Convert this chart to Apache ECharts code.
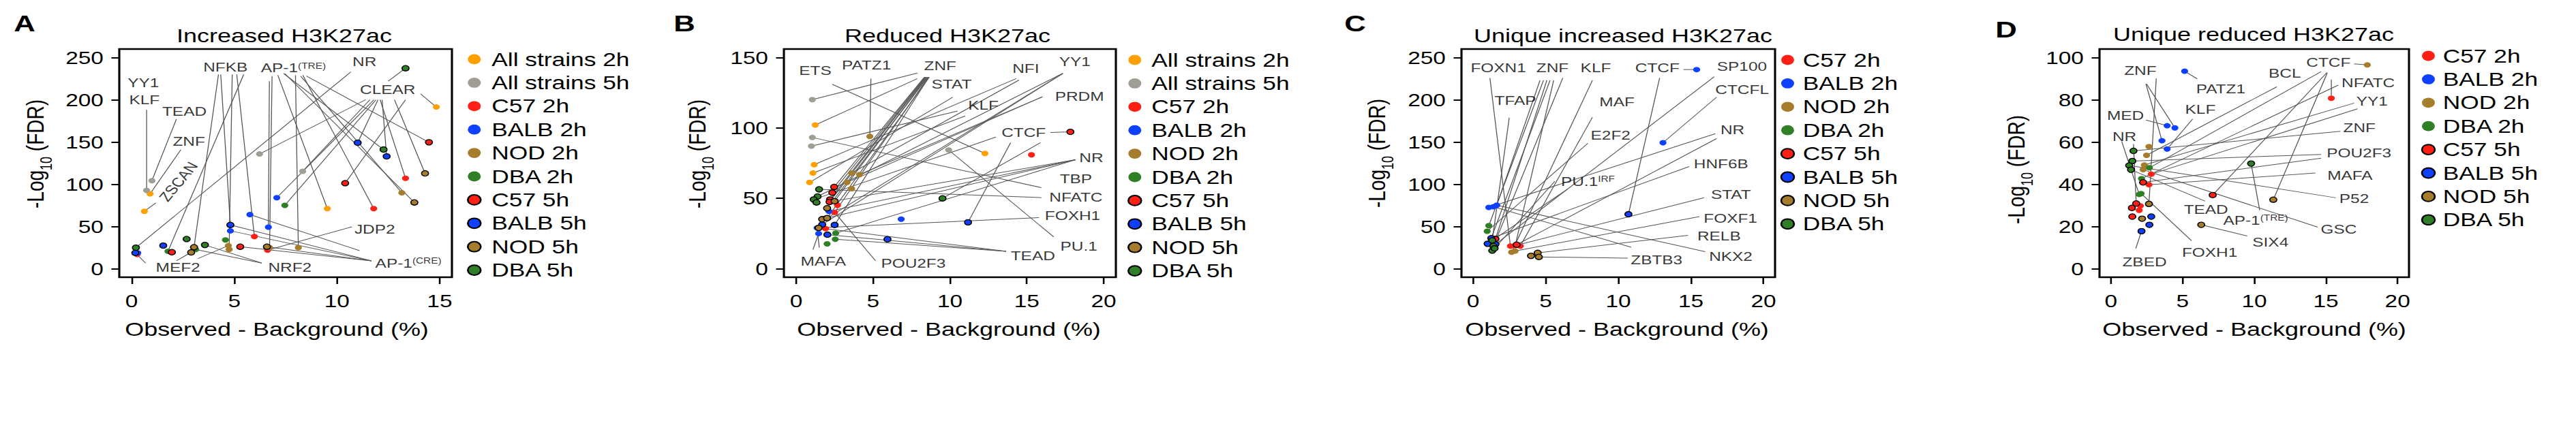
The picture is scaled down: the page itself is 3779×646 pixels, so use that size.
<!DOCTYPE html>
<html><head><meta charset="utf-8">
<script src="https://cdn.jsdelivr.net/npm/echarts@6/dist/echarts.min.js"></script>
<style>html,body{margin:0;padding:0;background:#fff;overflow:hidden;width:3779px;height:646px}
#c{height:646px;transform-origin:0 0}</style>
</head><body><div id="c"></div>
<script>
// ---------- series definitions ----------
const SERIES_KEYS = ['all2','all5','c2','b2','n2','d2','c5','b5','n5','d5'];
const SERIES_NAMES = ['All strains 2h','All strains 5h','C57 2h','BALB 2h','NOD 2h','DBA 2h','C57 5h','BALB 5h','NOD 5h','DBA 5h'];
const SERIES_COLORS = ['#FFA000','#A09D95','#FF2015','#1040FF','#A67D2C','#2F7F27','#FF2015','#1040FF','#A67D2C','#2F7F27'];
const SERIES_OUTLINED = [false,false,false,false,false,false,true,true,true,true];

// ---------- Panel A: Increased H3K27ac ----------
const A_title = 'Increased H3K27ac';
const A_xTicks = [0,5,10,15];
const A_yTicks = [0,50,100,150,200,250];
const A_all2 = [[0.62,68],[0.9,88.7],[9.53,71.2],[14.84,191.4]];
const A_all5 = [[0.73,92.7],[0.99,104.3],[6.23,135.8],[8.33,115.3]];
const A_c2 = [[0.27,17],[5.98,38.2],[6.62,22],[11.79,71.2],[13.34,107]];
const A_b2 = [[0.3,18.8],[7.07,84.1],[5.76,64.2],[6.66,49.2],[4.81,44.9]];
const A_n2 = [[4.71,27.4],[4.75,22.8],[6.72,25],[8.12,25],[13.16,90]];
const A_d2 = [[7.46,75],[4.57,34.1],[1.77,20.7],[3.12,22.8]];
const A_c5 = [[5.29,26.1],[1.96,19.6],[10.4,101.3],[14.48,149.7]];
const A_b5 = [[0.18,18.8],[1.54,27.4],[4.81,51.9],[11.01,149.2],[12.42,133]];
const A_n5 = [[6.59,26.1],[2.9,19.4],[3.04,25.5],[14.29,112.9],[13.77,78.5]];
const A_d5 = [[0.21,25],[2.68,35.2],[3.57,28.2],[12.27,141.1],[13.34,237.3]];
// annotation labels: [text, x, y, rotate]
const A_labels = [['YY1',0.57,220.4],['KLF',0.62,199.6],['TEAD',2.57,186.3],['ZNF',2.79,151.2],['ZSCAN',2.28,103,57],
  ['NFKB',4.57,238.9],['AP-1{sup|(TRE)}',7.88,237.5],['NR',11.34,245.4],['CLEAR',12.47,212.3],['JDP2',11.84,47],
  ['AP-1{sup|(CRE)}',13.48,6.7],['NRF2',7.71,1.3],['MEF2',2.26,1.3]];
// leader lines: [label-end x, label-end y, series key, point index]
const A_leaders = [
 [0.73,188,'all5',0],[2.18,177,'all5',1],[2.4,141,'all2',1],[1.18,78,'all2',0],
 [4.23,230,'n5',2],[4.34,230,'b5',2],[4.9,230,'n2',1],[5.12,230,'c2',1],[5.46,230,'d2',2],
 [6.71,222,'b2',3],[6.84,228,'n2',2],[7.12,229,'all2',2],[7.4,231,'d5',3],[7.46,231,'n5',4],[7.98,229,'n2',3],[8.23,228,'n2',4],[8.34,229,'c2',3],[8.51,228,'c5',3],
 [10.68,233,'d5',0],
 [11.4,200,'all5',2],[11.6,200,'all5',3],[11.8,200,'b2',1],[11.9,200,'d2',0],[12.0,200,'b5',3],[12.1,200,'c2',4],[12.2,200,'b5',4],[12.8,200,'n5',3],[13.34,200,'c5',2],[12.5,222,'d5',4],[14.07,207,'all2',3],
 [10.73,49.7,'c2',2],[11.1,21.5,'b2',2],
 [11.68,9.4,'b5',2],[11.68,9.4,'c5',0],[11.68,9.4,'n5',0],[11.68,9.4,'b2',4],
 [6.34,6.7,'d5',2],[6.34,6.7,'d2',3],
 [2.18,9.4,'n5',1],[0.68,6.7,'b5',0],[3.23,12.1,'n2',0]
];

// ---------- Panel B: Reduced H3K27ac ----------
const B_title = 'Reduced H3K27ac';
const B_xTicks = [0,5,10,15,20];
const B_yTicks = [0,50,100,150];
const B_all2 = [[1.24,102.1],[1.17,73.9],[1.09,68],[0.87,61.3],[12.28,81.9]];
const B_all5 = [[1.05,120.1],[1.05,93.2],[0.99,87.1],[9.92,84.3]];
const B_c2 = [[2.69,45.1],[2.5,40],[1.91,28.5],[15.31,80.9]];
const B_b2 = [[2.13,40.8],[1.36,29],[1.46,25],[6.83,35.2]];
const B_n2 = [[4.79,94],[3.61,68],[4.12,66.9],[3.31,61.3],[3.61,56.9]];
const B_d2 = [[2.57,25.3],[2.54,21],[2.01,17.7]];
const B_c5 = [[2.47,58.1],[2.35,54],[2.2,49.2],[2.17,47.5],[17.84,97.2]];
const B_b5 = [[1.69,31.4],[2.03,24.2],[2.5,31.1],[5.94,21],[11.18,33]];
const B_n5 = [[2.5,48],[2.01,43],[1.69,35.2],[2.01,36],[1.46,29]];
const B_d5 = [[1.49,56.4],[1.39,51.3],[1.14,49.2],[1.32,47.1],[9.52,50]];
const B_labels = [['ETS',1.24,140.8],['PATZ1',4.57,144.7],['ZNF',9.37,144],['STAT',10.11,131],['NFI',14.94,142.4],
  ['YY1',18.13,147.2],['PRDM',18.43,122.3],['KLF',12.18,116.1],['CTCF',14.8,96.8],['NR',19.2,78.7],['TBP',18.2,63.7],
  ['NFATC',18.2,50.8],['FOXH1',17.98,37.6],['PU.1',18.39,16.1],['TEAD',15.4,9.2],['MAFA',1.76,5.3],['POU2F3',7.62,3.7]];
const B_leaders = [
 [7.89,139,'all5',0],[7.89,135,'all2',0],[2.35,131,'all2',4],[4.86,135,'n2',0],[15.95,57.6,'all5',1],
 [8.34,136,'c5',0],[8.38,136,'c5',1],[8.42,136,'c5',2],[8.46,136,'c5',3],[8.5,136,'n5',0],[8.56,136,'n5',1],[8.6,136,'c2',1],[8.63,136,'b5',2],[8.66,136,'n5',3],
 [14.32,135,'all2',1],[11.0,108.5,'all2',2],[10.19,121.8,'all2',3],[10.5,112,'all5',2],
 [17.35,138.7,'n5',3],[17.35,138.7,'d5',1],[17.35,138.7,'b5',0],
 [16.02,122.1,'n2',2],[14.5,134,'n2',1],[16.02,122.1,'n2',3],
 [16.54,96.8,'c5',4],[12.99,93.5,'d5',2],[13.95,89.5,'b5',4],[15.9,89.6,'d5',4],
 [18.17,77.4,'c5',3],[18.17,77.4,'n5',2],[18.17,77.4,'b2',0],[18.17,77.4,'d2',0],
 [15.95,50.5,'d5',0],[15.8,36.3,'b2',1],[16.76,22.6,'all5',3],
 [13.66,12.4,'b5',1],[13.66,12.4,'d2',1],[13.66,12.4,'c2',2],
 [1.09,13.7,'b2',2],[1.5,15,'b2',1],[5.16,5.7,'c2',1]
];

// ---------- Panel C: Unique increased H3K27ac ----------
const C_title = 'Unique increased H3K27ac';
const C_xTicks = [0,5,10,15,20];
const C_yTicks = [0,50,100,150,200,250];
const C_c2 = [[2.57,26.9],[2.9,27.5],[3.25,26.9]];
const C_b2 = [[1.08,72.6],[1.4,73.4],[1.63,75.2],[13.08,149.2],[15.4,235.7]];
const C_n2 = [[2.65,19.6],[2.9,21]];
const C_d2 = [[1.08,51],[0.97,44.4]];
const C_c5 = [[1.54,35.3],[3.0,28.5]];
const C_b5 = [[1.0,29.6],[1.54,29],[1.25,36.2],[10.7,64.5]];
const C_n5 = [[3.99,15.3],[4.45,18.8],[4.53,14]];
const C_d5 = [[1.32,33.6],[1.4,26.9],[1.32,21.5],[1.48,24.2]];
const C_labels = [['FOXN1',1.74,237.9],['TFAP',2.91,198.9],['ZNF',5.47,237.9],['KLF',8.45,237.9],['CTCF',12.69,237.9],
  ['SP100',18.52,239.2],['CTCFL',18.53,212.3],['MAF',9.91,197.6],['E2F2',9.47,158],['NR',17.87,164.8],['HNF6B',17.08,124.5],
  ['PU.1{sup|IRF}',7.91,103.5],['STAT',17.76,87.9],['FOXF1',17.73,59.9],['RELB',16.94,39],['NKX2',17.75,14.8],['ZBTB3',12.64,10.7]];
const C_leaders = [
 [1.16,225.8,'c2',0],[2.49,178.8,'d5',0],
 [4.61,223,'b2',2],[4.85,223,'d2',0],[5.08,223,'c5',0],[5.3,223,'b5',2],[5.55,223,'c2',1],
 [6.18,225.8,'d5',1],[8.22,223,'n2',0],[12.85,225.8,'b5',3],[14.49,235.7,'b2',4],
 [16.61,227.2,'b5',1],[16.77,203,'b2',3],[8.22,179.3,'c2',2],[7.91,148.6,'d2',1],
 [16.69,159.9,'b2',0],[16.77,154,'c5',1],[14.89,121,'b5',2],[5.63,103.5,'d5',3],[6.49,94.1,'b5',0],
 [15.91,84.1,'c2',1],[15.59,61.8,'n2',1],[14.81,39.5,'n5',1],[15.99,20.2,'b2',2],[10.65,12.6,'n5',2],[10.89,25.5,'b2',1]
];

// ---------- Panel D: Unique reduced H3K27ac ----------
const D_title = 'Unique reduced H3K27ac';
const D_xTicks = [0,5,10,15,20];
const D_yTicks = [0,20,40,60,80,100];
const D_c2 = [[2.81,44.8],[2.65,39.8],[2.05,29.8],[1.97,27.7],[15.38,80.7]];
const D_b2 = [[5.14,93.5],[3.92,67.7],[4.46,66.7],[3.56,60.6],[3.92,56.7]];
const D_n2 = [[2.65,57.8],[2.48,53.7],[2.33,49.1],[2.24,46.9],[17.89,96.5]];
const D_d2 = [[2.68,47.8],[2.13,42.7],[1.97,35.2],[2.1,35.6]];
const D_c5 = [[2.24,40.9],[1.76,30.9],[1.46,28.8],[1.49,24.7],[7.1,34.9]];
const D_b5 = [[2.81,24.7],[2.68,20.8],[2.13,17.8]];
const D_n5 = [[2.65,30.7],[2.17,23.7],[6.3,20.8],[11.33,32.7]];
const D_d5 = [[1.57,55.8],[1.49,51],[1.27,48.9],[1.4,46.9],[9.78,49.8]];
const D_labels = [['ZNF',2.05,93.9],['MED',1.01,72.5],['NR',0.94,62.7],['ZBED',2.34,3.2],['KLF',6.24,75.4],['PATZ1',7.66,85.3],
  ['BCL',12.13,92.5],['CTCF',15.18,97.6],['NFATC',17.95,88],['YY1',18.22,79.5],['ZNF',17.34,66.7],['POU2F3',17.31,54.7],
  ['MAFA',16.68,44.3],['P52',16.97,33.1],['TEAD',6.63,28.1],['AP-1{sup|(TRE)}',10.1,22.9],['GSC',15.9,18.7],['SIX4',11.13,12.5],['FOXH1',6.89,7.7]];
const D_leaders = [
 [2.44,87.5,'b2',3],[2.48,87.5,'b2',2],[3.16,90.1,'n5',0],[2.44,70.4,'b2',1],[0.75,60.3,'d2',2],[1.57,59,'c5',1],
 [1.73,9.6,'b5',2],[5.7,70.9,'b2',4],[6.02,89.9,'b2',0],[16.97,97,'n2',4],[14.67,93.3,'d2',0],[15.06,92.8,'c5',4],
 [15.1,92.8,'n5',3],[11.57,86.1,'n2',1],[15.38,89.6,'c2',4],[15.86,86.9,'d2',1],[16.97,78.4,'n2',2],[17.21,75.7,'c2',0],
 [16.02,65.1,'d5',0],[14.67,54.1,'d5',1],[14.67,52.3,'c5',0],[14.27,45.3,'c2',1],[15.7,33.6,'d5',2],[14.43,19.7,'n2',3],
 [6.57,32,'d5',3],[5.62,13.3,'d2',3],[10.38,27.7,'d5',4],[9.51,15.5,'n5',2]
];

// ---------- assemble ----------
const PANELS = [
 {letter:'A', title:A_title, xTicks:A_xTicks, yTicks:A_yTicks, labels:A_labels, leaders:A_leaders,
  data:{all2:A_all2,all5:A_all5,c2:A_c2,b2:A_b2,n2:A_n2,d2:A_d2,c5:A_c5,b5:A_b5,n5:A_n5,d5:A_d5}},
 {letter:'B', title:B_title, xTicks:B_xTicks, yTicks:B_yTicks, labels:B_labels, leaders:B_leaders,
  data:{all2:B_all2,all5:B_all5,c2:B_c2,b2:B_b2,n2:B_n2,d2:B_d2,c5:B_c5,b5:B_b5,n5:B_n5,d5:B_d5}},
 {letter:'C', title:C_title, xTicks:C_xTicks, yTicks:C_yTicks, labels:C_labels, leaders:C_leaders,
  data:{c2:C_c2,b2:C_b2,n2:C_n2,d2:C_d2,c5:C_c5,b5:C_b5,n5:C_n5,d5:C_d5}},
 {letter:'D', title:D_title, xTicks:D_xTicks, yTicks:D_yTicks, labels:D_labels, leaders:D_leaders,
  data:{c2:D_c2,b2:D_b2,n2:D_n2,d2:D_d2,c5:D_c5,b5:D_b5,n5:D_n5,d5:D_d5}}
];
// layout in final (page) pixels; the figure is stretched horizontally by SX like the reference
const SX = 1.285;
const LAYOUT = [
 {grid:[175,72,488,335], xr:[-0.6,15.6], yr:[-10,260], letter:[36,34], title:[417,52], xName:[406,483], yName:[52,226], legend:[685,70,7.4]},
 {grid:[1150,72,487,335], xr:[-0.8,20.8], yr:[-6,156], letter:[1004,34], title:[1390,52], xName:[1392,483], yName:[1023,226], legend:[1654,71,6.7]},
 {grid:[2144,72,460,335], xr:[-0.8,20.8], yr:[-10,260], letter:[1988,34], title:[2381,52], xName:[2372,483], yName:[2020,225], legend:[2611.7,71,4.9]},
 {grid:[3080,72,454,335], xr:[-0.8,20.8], yr:[-4,104], letter:[2943,43], title:[3306,50], xName:[3307,483], yName:[2958,249], legend:[3551.7,65,4.1]}
];

const FONT = '"Liberation Sans", Arial, Helvetica, sans-serif';
const ELLIPSE = 'path://M0,5A5,5,0,1,1,10,5A5,5,0,1,1,0,5Z';
const X = v => v / SX;

const option = {animation:false, backgroundColor:'#fff', textStyle:{fontFamily:FONT},
  grid:[], xAxis:[], yAxis:[], series:[], legend:[], graphic:[]};

function txt(x, y, text, size, extra) {
  return {type:'text', x:X(x), y:y, silent:true,
    style:Object.assign({text:text, fontSize:size, fontFamily:FONT, fill:'#000',
      align:'center', verticalAlign:'middle', textAlign:'center', textVerticalAlign:'middle'}, extra || {})};
}

PANELS.forEach((P, i) => {
  const L = LAYOUT[i];
  const keys = SERIES_KEYS.filter(k => P.data[k]);
  option.grid.push({show:true, borderColor:'#000', borderWidth:2.4, backgroundColor:'transparent',
    left:X(L.grid[0]), top:L.grid[1], width:X(L.grid[2]), height:L.grid[3]});
  option.xAxis.push({gridIndex:i, type:'value', position:'bottom', min:L.xr[0], max:L.xr[1],
    axisLine:{show:false, onZero:false}, splitLine:{show:false},
    axisTick:{show:true, inside:false, customValues:P.xTicks, length:10, lineStyle:{color:'#000', width:2}},
    axisLabel:{customValues:P.xTicks, fontSize:26, color:'#000', margin:22, fontFamily:FONT}});
  option.yAxis.push({gridIndex:i, type:'value', position:'left', min:L.yr[0], max:L.yr[1],
    axisLine:{show:false, onZero:false}, splitLine:{show:false},
    axisTick:{show:true, inside:false, customValues:P.yTicks, length:9, lineStyle:{color:'#000', width:2}},
    axisLabel:{customValues:P.yTicks, fontSize:26, color:'#000', margin:18, fontFamily:FONT}});

  // leader lines
  const segs = P.leaders.map(l => { const pt = P.data[l[2]][l[3]]; return [l[0], l[1], pt[0], pt[1]]; });
  option.series.push({type:'custom', name:'leaders'+P.letter, xAxisIndex:i, yAxisIndex:i, z:1, silent:true,
    dimensions:['x0','y0','x1','y1'], encode:{x:[0,2], y:[1,3]}, data:segs,
    renderItem:(params, api) => {
      const a = api.coord([api.value(0), api.value(1)]);
      const b = api.coord([api.value(2), api.value(3)]);
      return {type:'line', shape:{x1:a[0], y1:a[1], x2:b[0], y2:b[1]}, style:{stroke:'#555', lineWidth:1}};
    }});

  // points
  keys.forEach(k => {
    const j = SERIES_KEYS.indexOf(k);
    option.series.push({type:'scatter', name:SERIES_NAMES[j], xAxisIndex:i, yAxisIndex:i, z:3, silent:true,
      symbol:'circle', symbolSize:8,
      itemStyle:{color:SERIES_COLORS[j], borderColor:'#000', borderWidth:SERIES_OUTLINED[j] ? 1.3 : 0, opacity:1},
      data:P.data[k]});
  });

  // annotation labels
  option.series.push({type:'scatter', name:'labels'+P.letter, xAxisIndex:i, yAxisIndex:i, z:4, silent:true,
    symbolSize:1, itemStyle:{color:'rgba(0,0,0,0)'},
    label:{show:true, position:'inside', formatter:p => p.name, fontSize:19, color:'#000', fontFamily:FONT,
      rich:{sup:{fontSize:12, verticalAlign:'top', lineHeight:12, color:'#000', fontFamily:FONT}}},
    labelLayout:{hideOverlap:false},
    data:P.labels.map(l => ({name:l[0], value:[l[1], l[2]], label: l[3] ? {rotate:l[3]} : {}}))});

  // legend
  option.legend.push({data:keys.map(k => SERIES_NAMES[SERIES_KEYS.indexOf(k)]), orient:'vertical',
    left:X(L.legend[0]), top:L.legend[1], itemWidth:X(19), itemHeight:16, itemGap:0.4, icon:ELLIPSE,
    selectedMode:false, padding:0,
    textStyle:{fontSize:27.5, lineHeight:34, color:'#000', fontFamily:FONT, padding:[0,0,0,L.legend[2]]}});

  // texts
  option.graphic.push(txt(L.letter[0], L.letter[1], P.letter, 34, {fontWeight:'bold'}));
  option.graphic.push(txt(L.title[0], L.title[1], P.title, 28));
  option.graphic.push(txt(L.xName[0], L.xName[1], 'Observed - Background (%)', 28));
  const yt = txt(L.yName[0], L.yName[1], '-Log{sub|10} (FDR)', 28,
    {lineHeight:42, rich:{sub:{fontSize:18, verticalAlign:'bottom', lineHeight:18, fill:'#000', fontFamily:FONT}}});
  yt.rotation = Math.PI / 2;
  option.graphic.push(yt);
});

const dom = document.getElementById('c');
dom.style.width = X(3779) + 'px';
dom.style.transform = 'scaleX(' + SX + ')';
const chart = echarts.init(dom, null, {renderer:'svg'});
chart.setOption(option);
</script>
</body></html>
